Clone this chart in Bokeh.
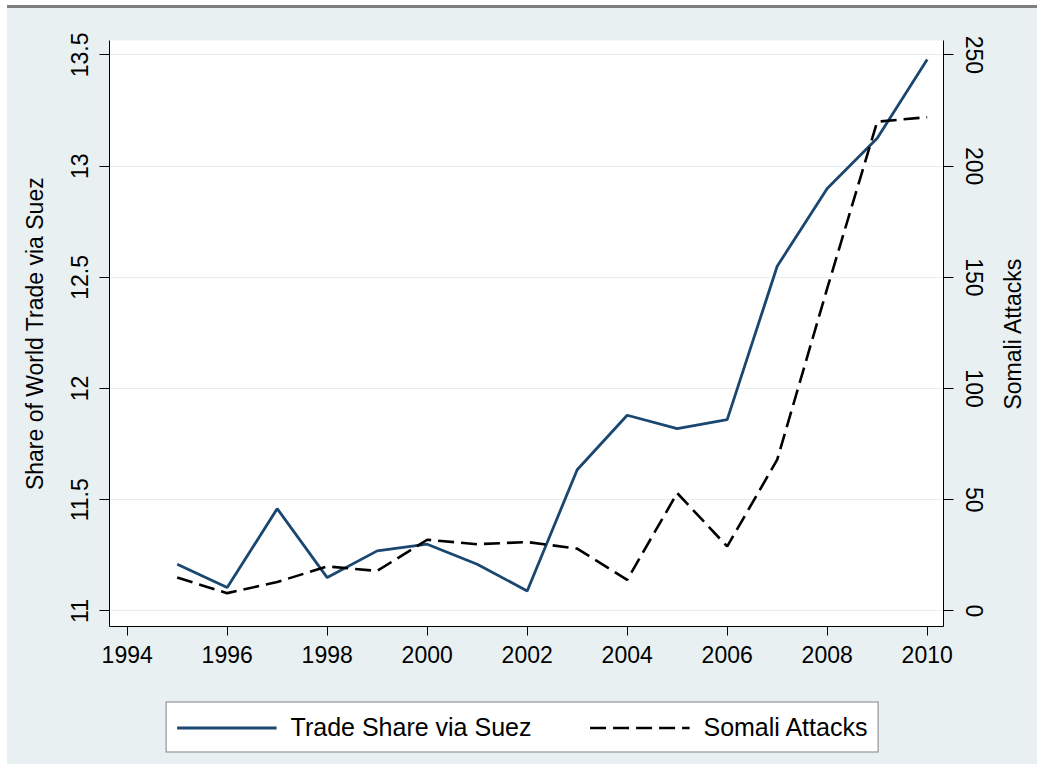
from bokeh.plotting import figure
from bokeh.models import Range1d, LinearAxis, Legend, LegendItem, FixedTicker, Div
from bokeh.layouts import column, row
from bokeh.embed import file_html
from bokeh.resources import INLINE

# ---- data ----
years = [1995, 1996, 1997, 1998, 1999, 2000, 2001, 2002,
         2003, 2004, 2005, 2006, 2007, 2008, 2009, 2010]
trade_share = [11.21, 11.105, 11.46, 11.15, 11.27, 11.30, 11.21, 11.09,
               11.635, 11.88, 11.82, 11.86, 12.55, 12.90, 13.125, 13.48]
somali_attacks = [15, 8, 13, 20, 18, 32, 30, 31,
                  28, 14, 53, 29, 68, 145, 220, 222]
x_ticks = [1994, 1996, 1998, 2000, 2002, 2004, 2006, 2008, 2010]
left_ticks = [11, 11.5, 12, 12.5, 13, 13.5]
left_tick_labels = ["11", "11.5", "12", "12.5", "13", "13.5"]
right_ticks = [0, 50, 100, 150, 200, 250]
series_labels = ["Trade Share via Suez", "Somali Attacks"]
left_title = "Share of World Trade via Suez"
right_title = "Somali Attacks"

BG = "#E8F0F2"
GRID = "#E4EDF0"
NAVY = "#1A476F"
FONT = "Liberation Sans"
W = 1030
P2W = 42
MAIN_W = W - P2W
MAIN_H = 682      # y 8 .. 690
LEG_H = 74        # y 690 .. 764

trade_style = dict(line_color=NAVY, line_width=2.8)
attack_style = dict(line_color="black", line_width=2.6, line_dash="16 7")

p = figure(width=MAIN_W, height=MAIN_H, output_backend="svg", toolbar_location=None,
           x_range=Range1d(1993.646, 2010.326), y_range=Range1d(10.930, 13.565),
           min_border_left=102, min_border_right=MAIN_W + 7 - 943, min_border_top=32,
           min_border_bottom=64, background_fill_color="white",
           border_fill_color=BG, outline_line_color=None)
p.margin = (0, 0, 0, 0)
p.extra_y_ranges = {"attacks": Range1d(-7.0, 256.5)}

p.line(years, trade_share, **trade_style)
p.line(years, somali_attacks, y_range_name="attacks", **attack_style)


def style_axis(ax):
    ax.axis_line_color = "black"
    ax.axis_line_width = 1
    ax.major_tick_line_color = "black"
    ax.major_tick_in = 0
    ax.major_tick_out = 10
    ax.minor_tick_line_color = None
    ax.major_label_text_font = FONT
    ax.major_label_text_font_size = "23px"
    ax.major_label_text_color = "black"
    ax.axis_label_text_font = FONT
    ax.axis_label_text_font_size = "23px"
    ax.axis_label_text_font_style = "normal"
    ax.axis_label_text_color = "black"


xa = p.xaxis[0]
style_axis(xa)
xa.ticker = FixedTicker(ticks=x_ticks)
xa.major_tick_out = 9
xa.major_label_standoff = 10

ya = p.yaxis[0]
style_axis(ya)
ya.ticker = FixedTicker(ticks=left_ticks)
ya.major_label_overrides = {t: s for t, s in zip(left_ticks, left_tick_labels)}
ya.major_label_orientation = "vertical"
ya.major_label_standoff = 11
ya.axis_label = left_title
ya.axis_label_standoff = 21

ra = LinearAxis(y_range_name="attacks", ticker=FixedTicker(ticks=right_ticks))
style_axis(ra)
ra.major_label_orientation = "vertical"
ra.major_label_standoff = 12
p.add_layout(ra, "right")

p.xgrid.grid_line_color = None
p.ygrid.grid_line_color = GRID
p.ygrid.grid_line_width = 1

# ---- narrow strip carrying the right-hand title (reads bottom-to-top) ----
p2 = figure(width=P2W, height=MAIN_H, output_backend="svg", toolbar_location=None,
            x_range=Range1d(0, 1), y_range=Range1d(0, 1),
            min_border_left=30, min_border_right=0, min_border_top=32,
            min_border_bottom=64, border_fill_color=BG,
            background_fill_color=BG, outline_line_color=None)
p2.margin = (0, 0, 0, 0)
p2.xaxis.visible = False
p2.xgrid.grid_line_color = None
p2.ygrid.grid_line_color = None
a2 = p2.yaxis[0]
a2.ticker = FixedTicker(ticks=[])
a2.axis_line_color = None
a2.major_tick_line_color = None
a2.minor_tick_line_color = None
a2.major_tick_out = 0
a2.major_tick_in = 0
a2.major_label_standoff = 0
a2.axis_label = right_title
a2.axis_label_standoff = 0
a2.axis_label_text_font = FONT
a2.axis_label_text_font_size = "23px"
a2.axis_label_text_font_style = "normal"
a2.axis_label_text_color = "black"

# ---- legend strip (the same series, drawn out of view, carry the key) ----
pl = figure(width=W, height=LEG_H, output_backend="svg", toolbar_location=None,
            x_range=Range1d(0, 1), y_range=Range1d(0, 1),
            x_axis_location=None, y_axis_location=None,
            min_border=0, min_border_left=0, min_border_right=0,
            min_border_top=0, min_border_bottom=0,
            background_fill_color=BG, border_fill_color=BG,
            outline_line_color=None)
pl.margin = (0, 0, 0, 0)
pl.xgrid.grid_line_color = None
pl.ygrid.grid_line_color = None
k1 = pl.line(years, trade_share, **trade_style)
k2 = pl.line(years, somali_attacks, **attack_style)

legend = Legend(items=[LegendItem(label=series_labels[0], renderers=[k1]),
                       LegendItem(label=series_labels[1], renderers=[k2])],
                location="center", orientation="horizontal",
                border_line_color="black", border_line_width=1,
                background_fill_color="white", background_fill_alpha=1,
                label_text_font=FONT, label_text_font_size="25px",
                label_text_color="black", glyph_width=100, glyph_height=28,
                label_standoff=14, spacing=58, padding=10, margin=0)
pl.add_layout(legend)

bar = Div(width=W, height=3, margin=(5, 0, 0, 0),
          styles={"background-color": "#7f7f7f"})

top = row(p, p2, spacing=0, styles={"background-color": BG})
inner = column(top, pl, spacing=0, styles={"background-color": BG})
layout = column(bar, inner, spacing=0, margin=(0, 0, 0, 7))
open("out.html", "w").write(file_html(layout, INLINE))
